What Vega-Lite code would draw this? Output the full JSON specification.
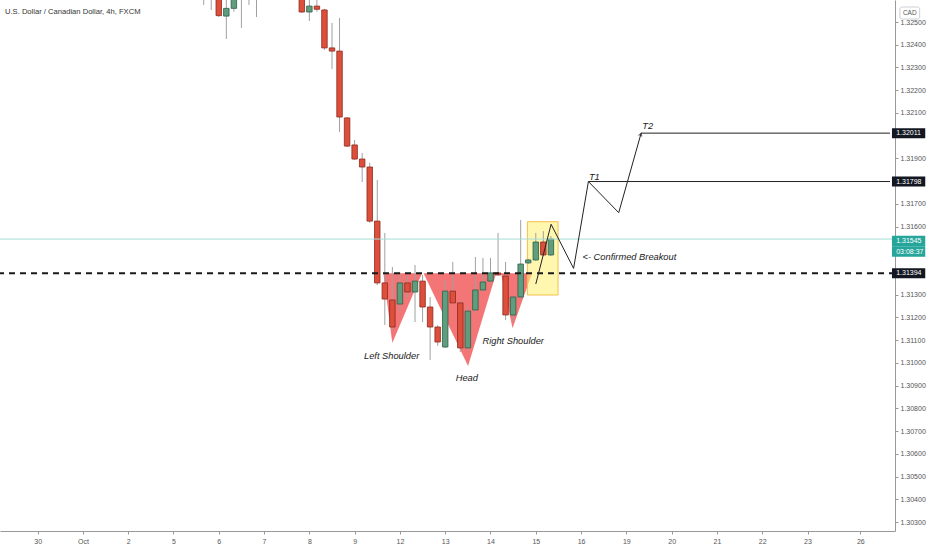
{
  "$schema": "https://vega.github.io/schema/vega-lite/v6.json",
  "width": 895,
  "height": 531,
  "autosize": {"type": "none"},
  "padding": {"left": 0, "top": 0, "right": 37, "bottom": 19},
  "background": "#ffffff",
  "config": {"view": {"stroke": null}, "axis": {"grid": false, "title": null, "labelOverlap": false, "labelBound": false}},
  "title": {"text": "U.S. Dollar / Canadian Dollar, 4h, FXCM", "anchor": "start", "frame": "group", "orient": "top", "offset": -16, "dx": 5, "fontSize": 7.6, "fontWeight": "normal", "font": "Liberation Sans", "color": "#333333"},
  "datasets": {
    "candles": [
      {"n": 22, "o": 1.3264, "h": 1.3268, "l": 1.32575, "c": 1.3262},
      {"n": 23, "o": 1.3262, "h": 1.3269, "l": 1.32553, "c": 1.3266},
      {"n": 24, "o": 1.3266, "h": 1.3268, "l": 1.32522, "c": 1.32528},
      {"n": 25, "o": 1.32526, "h": 1.3261, "l": 1.32425, "c": 1.3256},
      {"n": 26, "o": 1.3256, "h": 1.3264, "l": 1.32545, "c": 1.3261},
      {"n": 27, "o": 1.3261, "h": 1.3268, "l": 1.32474, "c": 1.3265},
      {"n": 28, "o": 1.3265, "h": 1.327, "l": 1.32575, "c": 1.3268},
      {"n": 29, "o": 1.3268, "h": 1.3274, "l": 1.32522, "c": 1.3271},
      {"n": 35, "o": 1.3262, "h": 1.3265, "l": 1.3254, "c": 1.32544},
      {"n": 36, "o": 1.32544, "h": 1.3261, "l": 1.32504, "c": 1.3257},
      {"n": 37, "o": 1.3257, "h": 1.3261, "l": 1.32545, "c": 1.32556},
      {"n": 38, "o": 1.32553, "h": 1.32558, "l": 1.32377, "c": 1.32386},
      {"n": 39, "o": 1.32386, "h": 1.32496, "l": 1.32293, "c": 1.32372},
      {"n": 40, "o": 1.32372, "h": 1.32518, "l": 1.32016, "c": 1.32082},
      {"n": 41, "o": 1.32078, "h": 1.32082, "l": 1.3195, "c": 1.31954},
      {"n": 42, "o": 1.31959, "h": 1.31981, "l": 1.31893, "c": 1.31897},
      {"n": 43, "o": 1.31897, "h": 1.31924, "l": 1.31796, "c": 1.31862},
      {"n": 44, "o": 1.31862, "h": 1.3188, "l": 1.31616, "c": 1.31624},
      {"n": 45, "o": 1.31624, "h": 1.31805, "l": 1.31343, "c": 1.31352},
      {"n": 46, "o": 1.31352, "h": 1.31572, "l": 1.31167, "c": 1.31281},
      {"n": 47, "o": 1.31277, "h": 1.31422, "l": 1.31145, "c": 1.31158},
      {"n": 48, "o": 1.31259, "h": 1.31398, "l": 1.31228, "c": 1.31352},
      {"n": 49, "o": 1.31352, "h": 1.31385, "l": 1.3129, "c": 1.31312},
      {"n": 50, "o": 1.31312, "h": 1.31431, "l": 1.3118, "c": 1.3136},
      {"n": 51, "o": 1.3136, "h": 1.31387, "l": 1.3118, "c": 1.31246},
      {"n": 52, "o": 1.31246, "h": 1.3129, "l": 1.31013, "c": 1.31158},
      {"n": 53, "o": 1.31158, "h": 1.31166, "l": 1.31075, "c": 1.31092},
      {"n": 54, "o": 1.3107, "h": 1.31365, "l": 1.31066, "c": 1.31316},
      {"n": 55, "o": 1.31316, "h": 1.31444, "l": 1.3126, "c": 1.31264},
      {"n": 56, "o": 1.31264, "h": 1.31275, "l": 1.31048, "c": 1.31066},
      {"n": 57, "o": 1.31066, "h": 1.31245, "l": 1.31055, "c": 1.31228},
      {"n": 58, "o": 1.31233, "h": 1.31466, "l": 1.3122, "c": 1.31321},
      {"n": 59, "o": 1.31321, "h": 1.31462, "l": 1.31312, "c": 1.31356},
      {"n": 60, "o": 1.3136, "h": 1.31462, "l": 1.31352, "c": 1.31396},
      {"n": 61, "o": 1.31396, "h": 1.31572, "l": 1.31383, "c": 1.31387},
      {"n": 62, "o": 1.31382, "h": 1.31444, "l": 1.31189, "c": 1.31211},
      {"n": 63, "o": 1.31211, "h": 1.31295, "l": 1.31185, "c": 1.3129},
      {"n": 64, "o": 1.3129, "h": 1.31629, "l": 1.3128, "c": 1.31435},
      {"n": 65, "o": 1.3144, "h": 1.31458, "l": 1.31435, "c": 1.31453},
      {"n": 66, "o": 1.31453, "h": 1.31572, "l": 1.31448, "c": 1.31532},
      {"n": 67, "o": 1.31532, "h": 1.3158, "l": 1.3147, "c": 1.31475},
      {"n": 68, "o": 1.31475, "h": 1.31558, "l": 1.3147, "c": 1.31545}
    ],
    "triangles": [
      {"shape": "Left Shoulder", "n": 45.81, "p": 1.31394, "neck": 1.31394},
      {"shape": "Left Shoulder", "n": 46.99, "p": 1.31088, "neck": 1.31394},
      {"shape": "Left Shoulder", "n": 50.92, "p": 1.31394, "neck": 1.31394},
      {"shape": "Head", "n": 51.13, "p": 1.31394, "neck": 1.31394},
      {"shape": "Head", "n": 57.03, "p": 1.30986, "neck": 1.31394},
      {"shape": "Head", "n": 60.75, "p": 1.31394, "neck": 1.31394},
      {"shape": "Right Shoulder", "n": 61.4, "p": 1.31394, "neck": 1.31394},
      {"shape": "Right Shoulder", "n": 62.92, "p": 1.31152, "neck": 1.31394},
      {"shape": "Right Shoulder", "n": 65.5, "p": 1.31394, "neck": 1.31394}
    ],
    "box": [{"n": 64.89, "n2": 68.95, "p": 1.312988, "p2": 1.316213}],
    "path": [
      {"i": 0, "n": 66.0, "p": 1.31347},
      {"i": 1, "n": 68.03, "p": 1.3161},
      {"i": 2, "n": 71.01, "p": 1.31416},
      {"i": 3, "n": 72.97, "p": 1.31798},
      {"i": 4, "n": 76.99, "p": 1.31661},
      {"i": 5, "n": 79.96, "p": 1.32011}
    ],
    "targets": [
      {"n": 72.97, "n2": 112.93, "p": 1.31798},
      {"n": 79.96, "n2": 112.93, "p": 1.32011}
    ],
    "arrow": [{"n": 79.96, "p": 1.32011}],
    "notes": [
      {"text": "Left Shoulder", "n": 46.9, "p": 1.3103},
      {"text": "Head", "n": 56.86, "p": 1.30934},
      {"text": "Right Shoulder", "n": 63.01, "p": 1.31096},
      {"text": "T1", "n": 73.76, "p": 1.31818},
      {"text": "T2", "n": 80.83, "p": 1.32042}
    ],
    "breakout": [{"text": "<- Confirmed Breakout", "n": 72.19, "p": 1.31466}],
    "levels": [
      {"label": "1.32011", "p": 1.32011},
      {"label": "1.31798", "p": 1.31798},
      {"label": "1.31394", "p": 1.31394}
    ],
    "last": [{"label": "1.31545", "timer": "03:08:37", "p": 1.31545}],
    "cad": [{"label": "CAD", "n": 114.24, "n2": 116.86, "p": 1.32566, "p2": 1.325132, "nc": 115.55, "pc": 1.325396}]
  },
  "layer": [
    {
      "data": {"name": "triangles"},
      "mark": {"type": "area", "color": "#f04040", "opacity": 0.72, "interpolate": "linear"},
      "encoding": {
        "x": {"field": "n", "type": "quantitative", "scale": {"domain": [-4.323, 112.93], "nice": false, "zero": false},
          "axis": {"values": [0, 6, 12, 18, 24, 30, 36, 42, 48, 54, 60, 66, 72, 78, 84, 90, 96, 102, 109], "tickCount": 60, "labelExpr": "['30','Oct','2','5','6','7','8','9','12','13','14','15','16','19','20','21','22','23','26'][round(datum.value/6)]", "title": null, "grid": false, "labelFontSize": 7, "labelColor": "#555555", "labelFont": "Liberation Sans", "tickSize": 3, "tickColor": "#999999", "domainColor": "#999999", "labelPadding": 3, "labelFlush": false, "labelOverlap": false}},
        "y": {"field": "p", "type": "quantitative", "scale": {"domain": [1.302604, 1.325968], "nice": false, "zero": false},
          "axis": {"orient": "right", "values": [1.325, 1.324, 1.323, 1.322, 1.321, 1.319, 1.317, 1.316, 1.313, 1.312, 1.311, 1.31, 1.309, 1.308, 1.307, 1.306, 1.305, 1.304, 1.303], "tickCount": 60, "format": ".5f", "title": null, "grid": false, "labelFontSize": 7, "labelColor": "#555555", "labelFont": "Liberation Sans", "tickSize": 3, "tickColor": "#999999", "domainColor": "#999999", "labelPadding": 2, "labelFlush": false, "labelOverlap": false}},
        "y2": {"field": "neck"},
        "detail": {"field": "shape", "type": "nominal"}
      }
    },
    {
      "data": {"name": "box"},
      "mark": {"type": "rect", "fill": "#fff17a", "fillOpacity": 0.6, "stroke": "#f2c04a", "strokeWidth": 1},
      "encoding": {
        "x": {"field": "n", "type": "quantitative", "scale": {"domain": [-4.323, 112.93], "nice": false, "zero": false}},
        "x2": {"field": "n2"},
        "y": {"field": "p", "type": "quantitative", "scale": {"domain": [1.302604, 1.325968], "nice": false, "zero": false}},
        "y2": {"field": "p2"}
      }
    },
    {
      "data": {"name": "candles"},
      "mark": {"type": "rule", "color": "#a0a0a0", "strokeWidth": 1, "clip": true},
      "encoding": {
        "x": {"field": "n", "type": "quantitative", "scale": {"domain": [-4.323, 112.93], "nice": false, "zero": false}},
        "y": {"field": "l", "type": "quantitative", "scale": {"domain": [1.302604, 1.325968], "nice": false, "zero": false}},
        "y2": {"field": "h"}
      }
    },
    {
      "data": {"name": "candles"},
      "mark": {"type": "bar", "size": 5.5, "strokeWidth": 0.8, "clip": true},
      "encoding": {
        "x": {"field": "n", "type": "quantitative", "scale": {"domain": [-4.323, 112.93], "nice": false, "zero": false}},
        "y": {"field": "o", "type": "quantitative", "scale": {"domain": [1.302604, 1.325968], "nice": false, "zero": false}},
        "y2": {"field": "c"},
        "fill": {"condition": {"test": "datum.c >= datum.o", "value": "#5e9e7e"}, "value": "#de4f3b"},
        "stroke": {"condition": {"test": "datum.c >= datum.o", "value": "#2e5e47"}, "value": "#8a2a1e"}
      }
    },
    {
      "data": {"values": [{"p": 1.31545}]},
      "mark": {"type": "rule", "color": "#a6dcd4", "strokeWidth": 1},
      "encoding": {
        "y": {"field": "p", "type": "quantitative", "scale": {"domain": [1.302604, 1.325968], "nice": false, "zero": false}}
      }
    },
    {
      "data": {"values": [{"p": 1.31394}]},
      "mark": {"type": "rule", "color": "#1a1a1a", "strokeWidth": 2, "strokeDash": [6, 5]},
      "encoding": {
        "y": {"field": "p", "type": "quantitative", "scale": {"domain": [1.302604, 1.325968], "nice": false, "zero": false}}
      }
    },
    {
      "data": {"name": "targets"},
      "mark": {"type": "rule", "color": "#222222", "strokeWidth": 1},
      "encoding": {
        "x": {"field": "n", "type": "quantitative", "scale": {"domain": [-4.323, 112.93], "nice": false, "zero": false}},
        "x2": {"field": "n2"},
        "y": {"field": "p", "type": "quantitative", "scale": {"domain": [1.302604, 1.325968], "nice": false, "zero": false}}
      }
    },
    {
      "data": {"name": "path"},
      "mark": {"type": "line", "color": "#222222", "strokeWidth": 1, "interpolate": "linear"},
      "encoding": {
        "x": {"field": "n", "type": "quantitative", "scale": {"domain": [-4.323, 112.93], "nice": false, "zero": false}},
        "y": {"field": "p", "type": "quantitative", "scale": {"domain": [1.302604, 1.325968], "nice": false, "zero": false}},
        "order": {"field": "i"}
      }
    },
    {
      "data": {"name": "arrow"},
      "mark": {"type": "point", "shape": "M-0.5,0.9L0,0L0.5,0.9", "filled": false, "stroke": "#222222", "strokeWidth": 1, "size": 50, "angle": 16},
      "encoding": {
        "x": {"field": "n", "type": "quantitative", "scale": {"domain": [-4.323, 112.93], "nice": false, "zero": false}},
        "y": {"field": "p", "type": "quantitative", "scale": {"domain": [1.302604, 1.325968], "nice": false, "zero": false}}
      }
    },
    {
      "data": {"name": "notes"},
      "mark": {"type": "text", "font": "Liberation Sans", "fontStyle": "italic", "fontSize": 9.3, "color": "#1a1a1a", "align": "center", "baseline": "middle"},
      "encoding": {
        "x": {"field": "n", "type": "quantitative", "scale": {"domain": [-4.323, 112.93], "nice": false, "zero": false}},
        "y": {"field": "p", "type": "quantitative", "scale": {"domain": [1.302604, 1.325968], "nice": false, "zero": false}},
        "text": {"field": "text"}
      }
    },
    {
      "data": {"name": "breakout"},
      "mark": {"type": "text", "font": "Liberation Sans", "fontStyle": "italic", "fontSize": 9.3, "color": "#1a1a1a", "align": "left", "baseline": "middle"},
      "encoding": {
        "x": {"field": "n", "type": "quantitative", "scale": {"domain": [-4.323, 112.93], "nice": false, "zero": false}},
        "y": {"field": "p", "type": "quantitative", "scale": {"domain": [1.302604, 1.325968], "nice": false, "zero": false}},
        "text": {"field": "text"}
      }
    },
    {
      "data": {"name": "levels"},
      "mark": {"type": "rule", "color": "#131722", "strokeWidth": 10, "strokeCap": "butt", "clip": false},
      "encoding": {
        "x": {"datum": 113.19, "type": "quantitative", "scale": {"domain": [-4.323, 112.93], "nice": false, "zero": false}},
        "x2": {"datum": 117.6},
        "y": {"field": "p", "type": "quantitative", "scale": {"domain": [1.302604, 1.325968], "nice": false, "zero": false}}
      }
    },
    {
      "data": {"name": "levels"},
      "mark": {"type": "text", "color": "#ffffff", "fontSize": 7, "font": "Liberation Sans", "align": "left", "baseline": "middle", "clip": false},
      "encoding": {
        "x": {"datum": 113.75, "type": "quantitative", "scale": {"domain": [-4.323, 112.93], "nice": false, "zero": false}},
        "y": {"field": "p", "type": "quantitative", "scale": {"domain": [1.302604, 1.325968], "nice": false, "zero": false}},
        "text": {"field": "label"}
      }
    },
    {
      "data": {"name": "last"},
      "mark": {"type": "rule", "color": "#26a69a", "strokeWidth": 10.5, "strokeCap": "butt", "yOffset": 2, "clip": false},
      "encoding": {
        "x": {"datum": 113.19, "type": "quantitative", "scale": {"domain": [-4.323, 112.93], "nice": false, "zero": false}},
        "x2": {"datum": 117.6},
        "y": {"field": "p", "type": "quantitative", "scale": {"domain": [1.302604, 1.325968], "nice": false, "zero": false}}
      }
    },
    {
      "data": {"name": "last"},
      "mark": {"type": "rule", "color": "#26a69a", "strokeWidth": 10.5, "strokeCap": "butt", "yOffset": 12.5, "clip": false},
      "encoding": {
        "x": {"datum": 113.19, "type": "quantitative", "scale": {"domain": [-4.323, 112.93], "nice": false, "zero": false}},
        "x2": {"datum": 117.6},
        "y": {"field": "p", "type": "quantitative", "scale": {"domain": [1.302604, 1.325968], "nice": false, "zero": false}}
      }
    },
    {
      "data": {"name": "last"},
      "mark": {"type": "text", "color": "#ffffff", "fontSize": 7, "font": "Liberation Sans", "align": "left", "baseline": "middle", "yOffset": 2, "clip": false},
      "encoding": {
        "x": {"datum": 113.75, "type": "quantitative", "scale": {"domain": [-4.323, 112.93], "nice": false, "zero": false}},
        "y": {"field": "p", "type": "quantitative", "scale": {"domain": [1.302604, 1.325968], "nice": false, "zero": false}},
        "text": {"field": "label"}
      }
    },
    {
      "data": {"name": "last"},
      "mark": {"type": "text", "color": "#ffffff", "fontSize": 7, "font": "Liberation Sans", "align": "left", "baseline": "middle", "yOffset": 12.5, "clip": false},
      "encoding": {
        "x": {"datum": 113.75, "type": "quantitative", "scale": {"domain": [-4.323, 112.93], "nice": false, "zero": false}},
        "y": {"field": "p", "type": "quantitative", "scale": {"domain": [1.302604, 1.325968], "nice": false, "zero": false}},
        "text": {"field": "timer"}
      }
    },
    {
      "data": {"name": "cad"},
      "mark": {"type": "rect", "fill": "#ffffff", "stroke": "#c0c3cc", "strokeWidth": 0.8, "cornerRadius": 2, "clip": false},
      "encoding": {
        "x": {"field": "n", "type": "quantitative", "scale": {"domain": [-4.323, 112.93], "nice": false, "zero": false}},
        "x2": {"field": "n2"},
        "y": {"field": "p", "type": "quantitative", "scale": {"domain": [1.302604, 1.325968], "nice": false, "zero": false}},
        "y2": {"field": "p2"}
      }
    },
    {
      "data": {"name": "cad"},
      "mark": {"type": "text", "color": "#555555", "fontSize": 6.5, "font": "Liberation Sans", "align": "center", "baseline": "middle", "clip": false},
      "encoding": {
        "x": {"field": "nc", "type": "quantitative", "scale": {"domain": [-4.323, 112.93], "nice": false, "zero": false}},
        "y": {"field": "pc", "type": "quantitative", "scale": {"domain": [1.302604, 1.325968], "nice": false, "zero": false}},
        "text": {"field": "label"}
      }
    }
  ]
}
